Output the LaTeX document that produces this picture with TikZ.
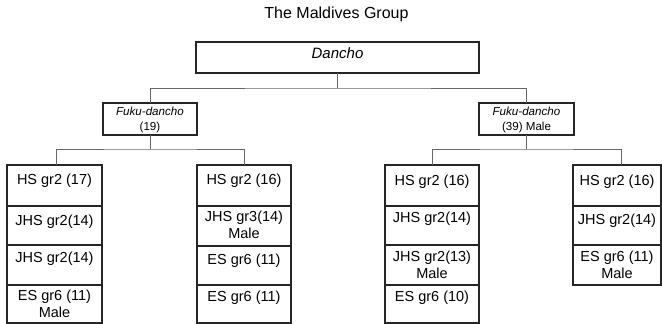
\documentclass[tikz,border=0pt]{standalone}
\usepackage{fontspec}
\setmainfont{Liberation Sans}
\tikzset{
  bx/.style={draw=black!85, line width=1.6pt, inner sep=0pt, outer sep=0pt},
  cellbox/.style={bx, line width=1.4pt},
  conn/.style={draw=black!60, line width=1pt},
  celltxt/.style={font=\fontsize{14.5}{17}\selectfont, align=center, anchor=north, inner sep=0pt},
  fukutxt/.style={font=\fontsize{11.6}{14.5}\selectfont, align=center, inner sep=0pt},
}
\newcommand\mkcell[7]{%
  \node[cellbox, minimum width=#3, minimum height={#5-#4}] (#1) at ({#2+#3/2},{(#4+#5)/2}) {};
  \node[celltxt] (#1t) at ({#2+#3/2},{#4+#6}) {#7};
}
\begin{document}
\begin{tikzpicture}[x=1pt,y=-1pt]
\useasboundingbox (0,0) rectangle (662,324);
% title
\node[font=\fontsize{16}{19}\selectfont, anchor=base, inner sep=0pt] (title) at (336.5,18.5) {The Maldives Group};
% Dancho
\node[bx, minimum width=283, minimum height=31] (dancho) at (337.5,57.5) {};
\node[font=\fontsize{15}{18}\itshape\selectfont, anchor=base, inner sep=0pt] (danchot) at (337.5,58.5) {Dancho};
% Fuku-dancho
\node[bx, minimum width=94, minimum height=32] (fl) at (150,119) {};
\node[fukutxt] (flt) at (150,120) {\textit{Fuku-dancho}\\(19)};
\node[bx, minimum width=95, minimum height=32] (fr) at (526.5,119) {};
\node[fukutxt] (frt) at (526.5,120) {\textit{Fuku-dancho}\\(39) Male};
% columns
\mkcell{c1a}{7}{95}{165}{206}{9}{HS gr2 (17)}
\mkcell{c1b}{7}{95}{206}{245}{9}{JHS gr2(14)}
\mkcell{c1c}{7}{95}{245}{285}{7}{JHS gr2(14)}
\mkcell{c1d}{7}{95}{285}{323}{5}{ES gr6 (11)\\Male}
\mkcell{c2a}{197}{94}{165}{206}{9}{HS gr2 (16)}
\mkcell{c2b}{197}{94}{206}{246}{5}{JHS gr3(14)\\Male}
\mkcell{c2c}{197}{94}{246}{285}{8}{ES gr6 (11)}
\mkcell{c2d}{197}{94}{285}{323}{6}{ES gr6 (11)}
\mkcell{c3a}{385}{94}{165}{206}{10}{HS gr2 (16)}
\mkcell{c3b}{385}{94}{206}{245}{6}{JHS gr2(14)}
\mkcell{c3c}{385}{94}{245}{285}{6}{JHS gr2(13)\\Male}
\mkcell{c3d}{385}{94}{285}{323}{6}{ES gr6 (10)}
\mkcell{c4a}{573}{88}{165}{206}{10}{HS gr2 (16)}
\mkcell{c4b}{573}{88}{206}{245}{8}{JHS gr2(14)}
\mkcell{c4c}{573}{88}{245}{285}{6}{ES gr6 (11)\\Male}
% connectors
\draw[conn] (dancho.south) -- ++(0,15) coordinate (dj);
\draw[conn] (fl.north) |- (dj) -| (fr.north);
\draw[conn] (fl.south) -- ++(0,14) coordinate (lj);
\draw[conn] ([xshift=1.5pt]c1a.north) |- (lj) -| (c2a.north);
\draw[conn] (fr.south) -- ++(0,14) coordinate (rj);
\draw[conn] (c3a.north) |- (rj) -| ([xshift=4pt]c4a.north);
\end{tikzpicture}
\end{document}
